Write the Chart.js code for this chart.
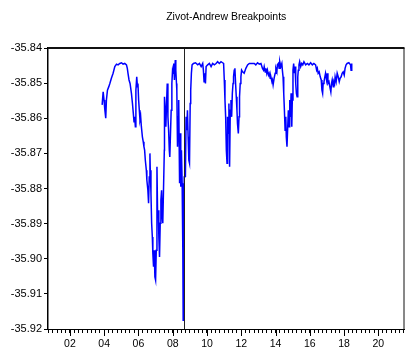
<!DOCTYPE html>
<html>
<head>
<meta charset="utf-8">
<script src="https://cdn.jsdelivr.net/npm/chart.js@4.4.1/dist/chart.umd.min.js"></script>
<style>
  body { margin: 0; background: #fff; }
  canvas { display: block; }
</style>
</head>
<body>
<canvas id="zaChart" width="409" height="354"></canvas>
<script>
// Zivot-Andrews break statistic, sampled from the daily series (decimal years)
const years = [
  2003.88, 2003.94, 2003.99, 2004.03, 2004.09, 2004.13, 2004.19, 2004.27, 2004.33, 2004.42,
  2004.52, 2004.62, 2004.72, 2004.81, 2004.91, 2005.01, 2005.10, 2005.20, 2005.30, 2005.35,
  2005.39, 2005.45, 2005.51, 2005.59, 2005.65, 2005.70, 2005.74, 2005.78, 2005.82, 2005.85,
  2005.90, 2005.94, 2005.97, 2006.01, 2006.05, 2006.09, 2006.13, 2006.17, 2006.23, 2006.28,
  2006.32, 2006.36, 2006.40, 2006.46, 2006.49, 2006.55, 2006.59, 2006.63, 2006.67, 2006.69,
  2006.73, 2006.77, 2006.81, 2006.84, 2006.88, 2006.92, 2006.96, 2007.00, 2007.04, 2007.08,
  2007.12, 2007.16, 2007.19, 2007.23, 2007.27, 2007.31, 2007.35, 2007.39, 2007.42, 2007.47,
  2007.51, 2007.52, 2007.56, 2007.60, 2007.64, 2007.68, 2007.72, 2007.76, 2007.80, 2007.83,
  2007.87, 2007.91, 2007.95, 2007.99, 2008.03, 2008.06, 2008.10, 2008.15, 2008.18, 2008.22,
  2008.24, 2008.28, 2008.32, 2008.35, 2008.40, 2008.44, 2008.47, 2008.51, 2008.55, 2008.59,
  2008.61, 2008.65, 2008.67, 2008.70, 2008.74, 2008.78, 2008.82, 2008.86, 2008.90, 2008.94,
  2008.98, 2009.02, 2009.05, 2009.09, 2009.13, 2009.21, 2009.33, 2009.46, 2009.56, 2009.66,
  2009.75, 2009.79, 2009.83, 2009.87, 2009.91, 2009.95, 2010.04, 2010.14, 2010.24, 2010.33,
  2010.43, 2010.53, 2010.62, 2010.72, 2010.82, 2010.91, 2010.97, 2011.01, 2011.05, 2011.09,
  2011.13, 2011.17, 2011.20, 2011.24, 2011.28, 2011.32, 2011.36, 2011.40, 2011.44, 2011.48,
  2011.52, 2011.55, 2011.59, 2011.63, 2011.67, 2011.71, 2011.75, 2011.78, 2011.83, 2011.87,
  2011.90, 2011.94, 2011.98, 2012.02, 2012.08, 2012.17, 2012.27, 2012.37, 2012.47, 2012.66,
  2012.76, 2012.85, 2012.95, 2013.05, 2013.15, 2013.24, 2013.30, 2013.34, 2013.40, 2013.44,
  2013.49, 2013.53, 2013.59, 2013.63, 2013.69, 2013.73, 2013.79, 2013.82, 2013.86, 2013.92,
  2013.98, 2014.02, 2014.08, 2014.11, 2014.17, 2014.21, 2014.25, 2014.31, 2014.37, 2014.40,
  2014.44, 2014.48, 2014.52, 2014.56, 2014.60, 2014.63, 2014.67, 2014.72, 2014.75, 2014.79,
  2014.83, 2014.87, 2014.91, 2014.95, 2014.98, 2015.02, 2015.06, 2015.10, 2015.14, 2015.18,
  2015.22, 2015.26, 2015.30, 2015.33, 2015.37, 2015.41, 2015.47, 2015.53, 2015.59, 2015.66,
  2015.76, 2015.86, 2015.95, 2016.05, 2016.15, 2016.24, 2016.34, 2016.40, 2016.44, 2016.49,
  2016.55, 2016.61, 2016.67, 2016.71, 2016.75, 2016.78, 2016.83, 2016.88, 2016.92, 2016.98,
  2017.02, 2017.06, 2017.12, 2017.17, 2017.23, 2017.27, 2017.31, 2017.37, 2017.41, 2017.45,
  2017.48, 2017.54, 2017.60, 2017.66, 2017.72, 2017.77, 2017.83, 2017.89, 2017.95, 2018.01,
  2018.06, 2018.12, 2018.18, 2018.28, 2018.38, 2018.41, 2018.45
];

const zaStat = [
  -35.8562, -35.8525, -35.8548, -35.8572, -35.8600, -35.8548, -35.8520, -35.8510, -35.8501, -35.8486,
  -35.8472, -35.8453, -35.8446, -35.8448, -35.8444, -35.8442, -35.8446, -35.8444, -35.8448, -35.8458,
  -35.8472, -35.8491, -35.8501, -35.8529, -35.8558, -35.8586, -35.8610, -35.8596, -35.8624, -35.8520,
  -35.8482, -35.8510, -35.8501, -35.8548, -35.8577, -35.8605, -35.8596, -35.8624, -35.8653, -35.8667,
  -35.8681, -35.8691, -35.8719, -35.8748, -35.8776, -35.8805, -35.8842, -35.8767, -35.8700, -35.8748,
  -35.8814, -35.8899, -35.8938, -35.8985, -35.9023, -35.8976, -35.9052, -35.9061, -35.8976, -35.8738,
  -35.8881, -35.8862, -35.8938, -35.8995, -35.8899, -35.8833, -35.8805, -35.8881, -35.8899, -35.8785,
  -35.8691, -35.8539, -35.8577, -35.8624, -35.8558, -35.8501, -35.8596, -35.8634, -35.8691, -35.8710,
  -35.8643, -35.8577, -35.8501, -35.8463, -35.8472, -35.8444, -35.8491, -35.8434, -35.8463, -35.8501,
  -35.8520, -35.8681, -35.8596, -35.8548, -35.8785, -35.8643, -35.8795, -35.8691, -35.8785, -35.8976,
  -35.9175, -35.8956, -35.8767, -35.8691, -35.8767, -35.8596, -35.8634, -35.8577, -35.8653, -35.8719,
  -35.8728, -35.8558, -35.8520, -35.8472, -35.8448, -35.8444, -35.8442, -35.8448, -35.8444, -35.8453,
  -35.8444, -35.8463, -35.8496, -35.8472, -35.8501, -35.8453, -35.8448, -35.8444, -35.8453, -35.8444,
  -35.8448, -35.8444, -35.8439, -35.8444, -35.8439, -35.8442, -35.8444, -35.8491, -35.8548, -35.8596,
  -35.8691, -35.8728, -35.8596, -35.8643, -35.8558, -35.8738, -35.8577, -35.8548, -35.8596, -35.8529,
  -35.8501, -35.8482, -35.8463, -35.8458, -35.8501, -35.8539, -35.8577, -35.8615, -35.8643, -35.8596,
  -35.8539, -35.8501, -35.8482, -35.8463, -35.8468, -35.8472, -35.8458, -35.8448, -35.8444, -35.8444,
  -35.8444, -35.8448, -35.8442, -35.8446, -35.8444, -35.8458, -35.8463, -35.8453, -35.8468, -35.8458,
  -35.8472, -35.8463, -35.8477, -35.8472, -35.8486, -35.8482, -35.8496, -35.8491, -35.8505, -35.8486,
  -35.8472, -35.8458, -35.8468, -35.8448, -35.8444, -35.8458, -35.8439, -35.8453, -35.8444, -35.8463,
  -35.8482, -35.8529, -35.8577, -35.8634, -35.8596, -35.8653, -35.8681, -35.8615, -35.8577, -35.8624,
  -35.8548, -35.8596, -35.8529, -35.8624, -35.8548, -35.8463, -35.8444, -35.8472, -35.8453, -35.8501,
  -35.8529, -35.8539, -35.8482, -35.8463, -35.8448, -35.8439, -35.8453, -35.8444, -35.8448, -35.8439,
  -35.8448, -35.8444, -35.8448, -35.8442, -35.8448, -35.8444, -35.8448, -35.8463, -35.8458, -35.8472,
  -35.8468, -35.8482, -35.8491, -35.8520, -35.8529, -35.8501, -35.8496, -35.8482, -35.8472, -35.8491,
  -35.8472, -35.8501, -35.8496, -35.8510, -35.8525, -35.8501, -35.8491, -35.8510, -35.8496, -35.8501,
  -35.8482, -35.8496, -35.8472, -35.8482, -35.8496, -35.8486, -35.8482, -35.8472, -35.8468, -35.8477,
  -35.8458, -35.8448, -35.8444, -35.8442, -35.8448, -35.8463, -35.8444
];

const yTicks = [-35.84, -35.85, -35.86, -35.87, -35.88, -35.89, -35.90, -35.91, -35.92];
const yearLabels = [2002, 2004, 2006, 2008, 2010, 2012, 2014, 2016, 2018, 2020];
const breakYear = 2008.63;   // break date marked by the vertical line

const FONT = "'Liberation Sans', Arial, sans-serif";

// box round the plot, the break line, the longer year ticks and the title
const framePlugin = {
  id: 'frame',
  afterDraw(chart) {
    const { ctx, chartArea: a, scales } = chart;
    ctx.save();

    // break date
    const bx = Math.round(scales.x.getPixelForValue(breakYear)) + 0.5;
    ctx.strokeStyle = '#222';
    ctx.lineWidth = 1;
    ctx.beginPath();
    ctx.moveTo(bx, a.top);
    ctx.lineTo(bx, a.bottom);
    ctx.stroke();

    // top and right sides
    ctx.strokeStyle = '#111';
    ctx.lineWidth = 2;
    ctx.beginPath();
    ctx.moveTo(a.left, a.top);
    ctx.lineTo(a.right, a.top);
    ctx.stroke();
    ctx.lineWidth = 1;
    ctx.beginPath();
    ctx.moveTo(a.right - 0.5, a.top);
    ctx.lineTo(a.right - 0.5, a.bottom);
    ctx.stroke();

    // year ticks are a bit longer than the quarter ticks
    ctx.strokeStyle = '#000';
    yearLabels.forEach(y => {
      const px = Math.round(scales.x.getPixelForValue(y)) + 0.5;
      ctx.beginPath();
      ctx.moveTo(px, a.bottom);
      ctx.lineTo(px, a.bottom + 7);
      ctx.stroke();
    });

    ctx.fillStyle = '#000';
    ctx.font = '10.5px ' + FONT;
    ctx.textAlign = 'center';
    ctx.textBaseline = 'alphabetic';
    ctx.fillText('Zivot-Andrew Breakpoints', (a.left + a.right) / 2, 20);
    ctx.restore();
  }
};

new Chart(document.getElementById('zaChart'), {
  type: 'line',
  data: {
    datasets: [{
      data: years.map((yr, i) => ({ x: yr, y: zaStat[i] })),
      borderColor: '#0000ff',
      borderWidth: 1.5,
      pointRadius: 0,
      tension: 0,
      fill: false
    }]
  },
  options: {
    responsive: false,
    animation: false,
    layout: { padding: { top: 48, right: 3, left: 0, bottom: 0 } },
    plugins: {
      legend: { display: false },
      tooltip: { enabled: false },
      title: { display: false }
    },
    scales: {
      x: {
        type: 'linear',
        min: 2000.72,
        max: 2021.53,
        afterBuildTicks: (scale) => {
          const t = [];
          for (let k = 8003; k <= 8086; k++) t.push({ value: k / 4 });
          scale.ticks = t;
        },
        afterFit: (scale) => { scale.height = 25; },
        ticks: {
          autoSkip: false,
          maxRotation: 0,
          padding: 5,
          color: '#000',
          font: { family: FONT, size: 10.5 },
          callback: (v) => yearLabels.includes(v) ? String(v).slice(2) : ''
        },
        grid: { drawOnChartArea: false, tickLength: 4, tickColor: '#000' },
        border: { display: true, color: '#000', width: 1 }
      },
      y: {
        min: -35.92,
        max: -35.84,
        afterBuildTicks: (scale) => {
          scale.ticks = yTicks.map(v => ({ value: v }));
        },
        afterFit: (scale) => { scale.width = 48; },
        ticks: {
          padding: 2,
          color: '#000',
          font: { family: FONT, size: 11 },
          callback: (v) => v.toFixed(2)
        },
        grid: { drawOnChartArea: false, tickLength: 4, tickColor: '#000' },
        border: { display: true, color: '#000', width: 1.5 }
      }
    }
  },
  plugins: [framePlugin]
});
</script>
</body>
</html>
